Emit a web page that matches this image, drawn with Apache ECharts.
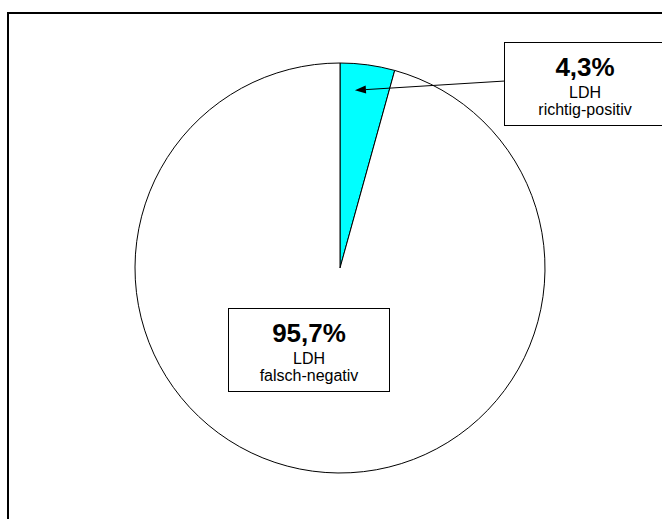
<!DOCTYPE html>
<html>
<head>
<meta charset="utf-8">
<script src="https://cdn.jsdelivr.net/npm/echarts@6/dist/echarts.min.js"></script>
<style>
  html, body { margin: 0; padding: 0; background: #fff; }
  #chart { width: 662px; height: 519px; }
</style>
</head>
<body>
<div id="chart"></div>
<script>
// LDH test results, share of cases (%)
const categories = ['richtig-positiv', 'falsch-negativ'];
const testName = 'LDH';
const shares = [4.3, 95.7];
const sliceColors = ['#00FFFF', '#FFFFFF'];

// pie geometry
const CX = 340, CY = 268, R = 205;

// label box placement (center x, top y) for each slice
const boxPos = [[585, 43], [309, 309]];
const BOX_W = 160;

function fmtPct(v) {
  return v.toFixed(1).replace('.', ',') + '%';
}

const chart = echarts.init(document.getElementById('chart'), null, { renderer: 'svg' });

// arrow from the first label box into its slice
const total = shares.reduce((a, b) => a + b, 0);
const sliceAngle = shares[0] / total * 2 * Math.PI;
const tipAng = sliceAngle * 0.31;
const tipDist = R * 0.87;
const tipX = CX + tipDist * Math.sin(tipAng);
const tipY = CY - tipDist * Math.cos(tipAng);
const startX = boxPos[0][0] - BOX_W / 2;
const startY = boxPos[0][1] + 38;
const ang = Math.atan2(tipY - startY, tipX - startX);
const headL = 11, headW = 4;
const bx = tipX - headL * Math.cos(ang), by = tipY - headL * Math.sin(ang);
const nx = -Math.sin(ang), ny = Math.cos(ang);

chart.setOption({
  animation: false,
  backgroundColor: '#fff',
  graphic: [
    {
      type: 'rect', z: 0, silent: true,
      shape: { x: 8, y: 13, width: 700, height: 600 },
      style: { fill: 'none', stroke: '#000', lineWidth: 2 }
    },
    {
      type: 'line', z: 200, silent: true,
      shape: { x1: startX, y1: startY, x2: bx, y2: by },
      style: { stroke: '#000', lineWidth: 1 }
    },
    {
      type: 'polygon', z: 200, silent: true,
      shape: { points: [[tipX, tipY], [bx + nx * headW, by + ny * headW], [bx - nx * headW, by - ny * headW]] },
      style: { fill: '#000' }
    }
  ],
  series: [{
    type: 'pie',
    center: [CX, CY],
    radius: R,
    startAngle: 90,
    clockwise: true,
    avoidLabelOverlap: false,
    emphasis: { disabled: true },
    itemStyle: { borderColor: '#000', borderWidth: 1 },
    labelLine: { show: false },
    label: {
      show: true,
      position: 'outside',
      formatter: p => '{p|' + fmtPct(p.value) + '}\n{t|' + testName + '}\n{t|' + p.name + '}',
      backgroundColor: '#fff',
      borderColor: '#000',
      borderWidth: 1,
      width: BOX_W,
      padding: [6, 0, 7, 0],
      align: 'center',
      rich: {
        p: { fontFamily: 'Liberation Sans, Arial', fontWeight: 'bold', fontSize: 26, lineHeight: 35, color: '#000', align: 'center' },
        t: { fontFamily: 'Liberation Sans, Arial', fontSize: 16, lineHeight: 17, color: '#000', align: 'center' }
      }
    },
    labelLayout: p => ({
      x: boxPos[p.dataIndex][0],
      y: boxPos[p.dataIndex][1],
      align: 'center',
      verticalAlign: 'top'
    }),
    data: categories.map((c, i) => ({
      name: c,
      value: shares[i],
      itemStyle: { color: sliceColors[i] }
    }))
  }]
});
</script>
</body>
</html>
